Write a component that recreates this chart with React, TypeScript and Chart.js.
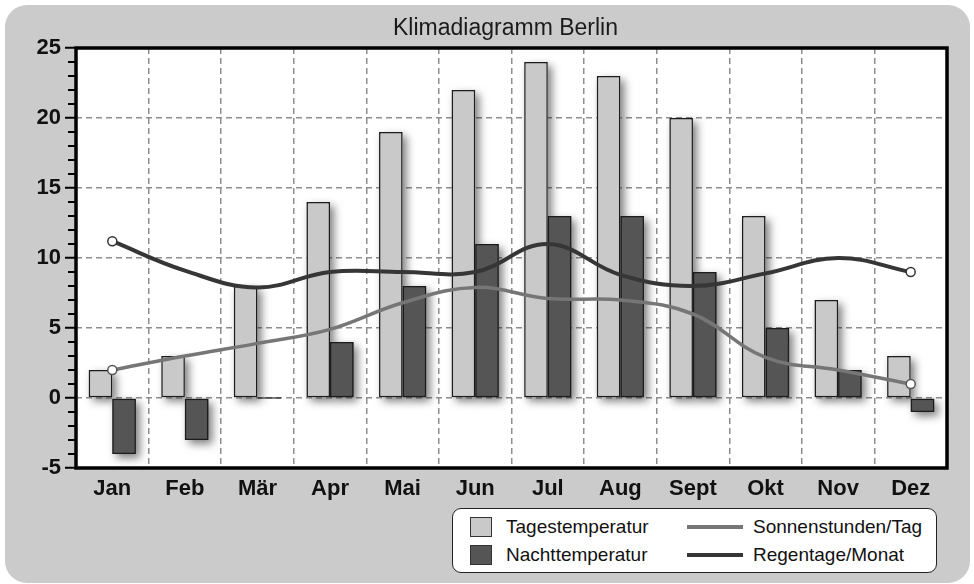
import React, { useEffect, useRef } from 'react';
import { Chart, registerables } from 'chart.js';

Chart.register(...registerables);

const TITLE = 'Klimadiagramm Berlin';
const months = ['Jan', 'Feb', 'Mär', 'Apr', 'Mai', 'Jun', 'Jul', 'Aug', 'Sept', 'Okt', 'Nov', 'Dez'];
const tagestemperatur = [2, 3, 8, 14, 19, 22, 24, 23, 20, 13, 7, 3];
const nachttemperatur = [-4, -3, 0, 4, 8, 11, 13, 13, 9, 5, 2, -1];
const sonnenstunden = [2, 3, 3.9, 4.9, 6.8, 7.9, 7.1, 7.0, 6.0, 2.9, 2.0, 1];
const regentage = [11.2, 9.1, 7.9, 9.0, 9.0, 9.0, 11, 8.8, 8.0, 8.9, 10, 9];
const yMin = -5;
const yMax = 25;
const yStep = 5;

const FONT = '"Liberation Sans", Arial, Helvetica, sans-serif';
const C_DAY = '#c9c9c9';
const C_NIGHT = '#555555';
const C_SUN = '#767676';
const C_RAIN = '#363636';
const C_EDGE = '#1c1c1c';
const C_GRID = '#8e8e8e';

const legendItems = [
  { label: 'Tagestemperatur', kind: 'box', color: C_DAY, col: 0, row: 0 },
  { label: 'Nachttemperatur', kind: 'box', color: C_NIGHT, col: 0, row: 1 },
  { label: 'Sonnenstunden/Tag', kind: 'line', color: C_SUN, col: 1, row: 0 },
  { label: 'Regentage/Monat', kind: 'line', color: C_RAIN, col: 1, row: 1 },
];

export default function App() {
  const ref = useRef<HTMLCanvasElement>(null);

  useEffect(() => {
    const canvas = ref.current;
    if (!canvas) return;
    const endpoints = months.map((_, i) => (i === 0 || i === months.length - 1 ? 4.5 : 0));

    const decor = {
      id: 'decor',
      beforeDraw(chart: any) {
        const { ctx, chartArea: a } = chart;
        ctx.save();
        ctx.fillStyle = '#ffffff';
        ctx.fillRect(a.left, a.top, a.right - a.left, a.bottom - a.top);
        ctx.font = `23px ${FONT}`;
        ctx.fillStyle = '#1a1a1a';
        ctx.textAlign = 'center';
        ctx.textBaseline = 'alphabetic';
        ctx.fillText(TITLE, (a.left + a.right) / 2 - 6, 35);
        ctx.restore();
      },
      beforeDatasetsDraw(chart: any) {
        const { ctx } = chart;
        ctx.save();
        ctx.shadowColor = 'rgba(0,0,0,0.5)';
        ctx.shadowBlur = 9;
        ctx.shadowOffsetX = 4;
        ctx.shadowOffsetY = 4;
        chart.data.datasets.forEach((ds: any, di: number) => {
          const meta = chart.getDatasetMeta(di);
          if (meta.type !== 'bar' || meta.hidden) return;
          meta.data.forEach((el: any) => {
            const { x, y, base, width } = el.getProps(['x', 'y', 'base', 'width'], true);
            const top = Math.min(y, base);
            const h = Math.abs(base - y);
            if (h < 3) return;
            ctx.fillStyle = ds.backgroundColor;
            ctx.fillRect(x - width / 2, top, width, h);
          });
        });
        ctx.restore();
      },
      afterDraw(chart: any) {
        const { ctx, chartArea: a } = chart;
        const ys = chart.scales.y;
        ctx.save();
        ctx.strokeStyle = '#000';
        ctx.lineWidth = 2;
        for (let v = Math.ceil(ys.min); v <= ys.max; v++) {
          if (v % yStep === 0) continue;
          const py = Math.round(ys.getPixelForValue(v));
          ctx.beginPath();
          ctx.moveTo(a.left - 8, py);
          ctx.lineTo(a.left, py);
          ctx.stroke();
        }
        ctx.lineWidth = 3.5;
        ctx.strokeRect(a.left, a.top, a.right - a.left, a.bottom - a.top);
        ctx.restore();
      },
    };

    const chart = new Chart(canvas, {
      type: 'bar',
      data: {
        labels: months,
        datasets: [
          {
            type: 'line',
            label: 'Sonnenstunden/Tag',
            data: sonnenstunden,
            borderColor: C_SUN,
            borderWidth: 3.5,
            tension: 0.4,
            fill: false,
            pointRadius: endpoints,
            pointBackgroundColor: '#ffffff',
            pointBorderColor: '#555',
            pointBorderWidth: 1.5,
            order: 0,
          } as any,
          {
            type: 'line',
            label: 'Regentage/Monat',
            data: regentage,
            borderColor: C_RAIN,
            borderWidth: 4,
            tension: 0.4,
            fill: false,
            pointRadius: endpoints,
            pointBackgroundColor: '#ffffff',
            pointBorderColor: '#333',
            pointBorderWidth: 1.5,
            order: 0,
          } as any,
          {
            type: 'bar',
            label: 'Tagestemperatur',
            data: tagestemperatur,
            backgroundColor: C_DAY,
            borderColor: C_EDGE,
            borderWidth: 1.5,
            borderSkipped: false,
            categoryPercentage: 0.65,
            barPercentage: 1,
            order: 1,
          } as any,
          {
            type: 'bar',
            label: 'Nachttemperatur',
            data: nachttemperatur,
            backgroundColor: C_NIGHT,
            borderColor: C_EDGE,
            borderWidth: 1.5,
            borderSkipped: false,
            minBarLength: 1.5,
            categoryPercentage: 0.65,
            barPercentage: 1,
            order: 1,
          } as any,
        ],
      },
      options: {
        responsive: false,
        animation: false,
        devicePixelRatio: 1,
        layout: { padding: { top: 48, right: 27, left: 0, bottom: 0 } },
        plugins: {
          legend: { display: false },
          title: { display: false },
          tooltip: { enabled: false },
        },
        scales: {
          x: {
            offset: true,
            grid: { offset: true, color: C_GRID, lineWidth: 1.5, drawTicks: false },
            border: { display: false, dash: [6, 4] },
            ticks: {
              color: '#111',
              font: { family: FONT, size: 22, weight: 'bold' },
              padding: 8,
              maxRotation: 0,
              autoSkip: false,
            },
            afterFit: (s: any) => {
              s.height = 116;
            },
          },
          y: {
            min: yMin,
            max: yMax,
            ticks: {
              stepSize: yStep,
              color: '#111',
              font: { family: FONT, size: 22, weight: 'bold' },
              padding: 4,
            },
            grid: {
              color: C_GRID,
              lineWidth: 1.5,
              drawTicks: true,
              tickLength: 11,
              tickColor: '#000',
              tickWidth: 2,
            },
            border: { display: false, dash: [6, 4] },
            afterFit: (s: any) => {
              s.width = 76;
            },
          },
        },
      } as any,
      plugins: [decor],
    });
    return () => chart.destroy();
  }, []);

  const colLeft = [17, 234];
  const textLeft = [53, 300];
  const rowTop = [8, 36];

  return (
    <div style={{ position: 'absolute', left: 0, top: 0, width: 974, height: 584, overflow: 'hidden' }}>
      <div
        style={{
          position: 'absolute',
          left: 5,
          top: 5,
          width: 965,
          height: 578,
          background: '#cbcbcb',
          borderRadius: 22,
        }}
      />
      <canvas
        ref={ref}
        width={974}
        height={584}
        style={{ position: 'absolute', left: 0, top: 0, width: 974, height: 584 }}
      />
      <div
        style={{
          position: 'absolute',
          left: 452,
          top: 508,
          width: 485,
          height: 65,
          background: '#ffffff',
          border: '1.5px solid #222',
          borderRadius: 9,
          boxSizing: 'border-box',
          fontFamily: FONT,
          fontSize: 19,
          color: '#111',
        }}
      >
        {legendItems.map((it) => (
          <React.Fragment key={it.label}>
            {it.kind === 'box' ? (
              <div
                style={{
                  position: 'absolute',
                  left: colLeft[it.col],
                  top: rowTop[it.row],
                  width: 22,
                  height: 20,
                  background: it.color,
                  border: '1.5px solid #333',
                  boxSizing: 'border-box',
                }}
              />
            ) : (
              <div
                style={{
                  position: 'absolute',
                  left: colLeft[it.col],
                  top: rowTop[it.row] + 8,
                  width: 56,
                  height: 4,
                  background: it.color,
                }}
              />
            )}
            <div
              style={{
                position: 'absolute',
                left: textLeft[it.col],
                top: rowTop[it.row],
                height: 20,
                lineHeight: '20px',
                whiteSpace: 'nowrap',
              }}
            >
              {it.label}
            </div>
          </React.Fragment>
        ))}
      </div>
    </div>
  );
}
